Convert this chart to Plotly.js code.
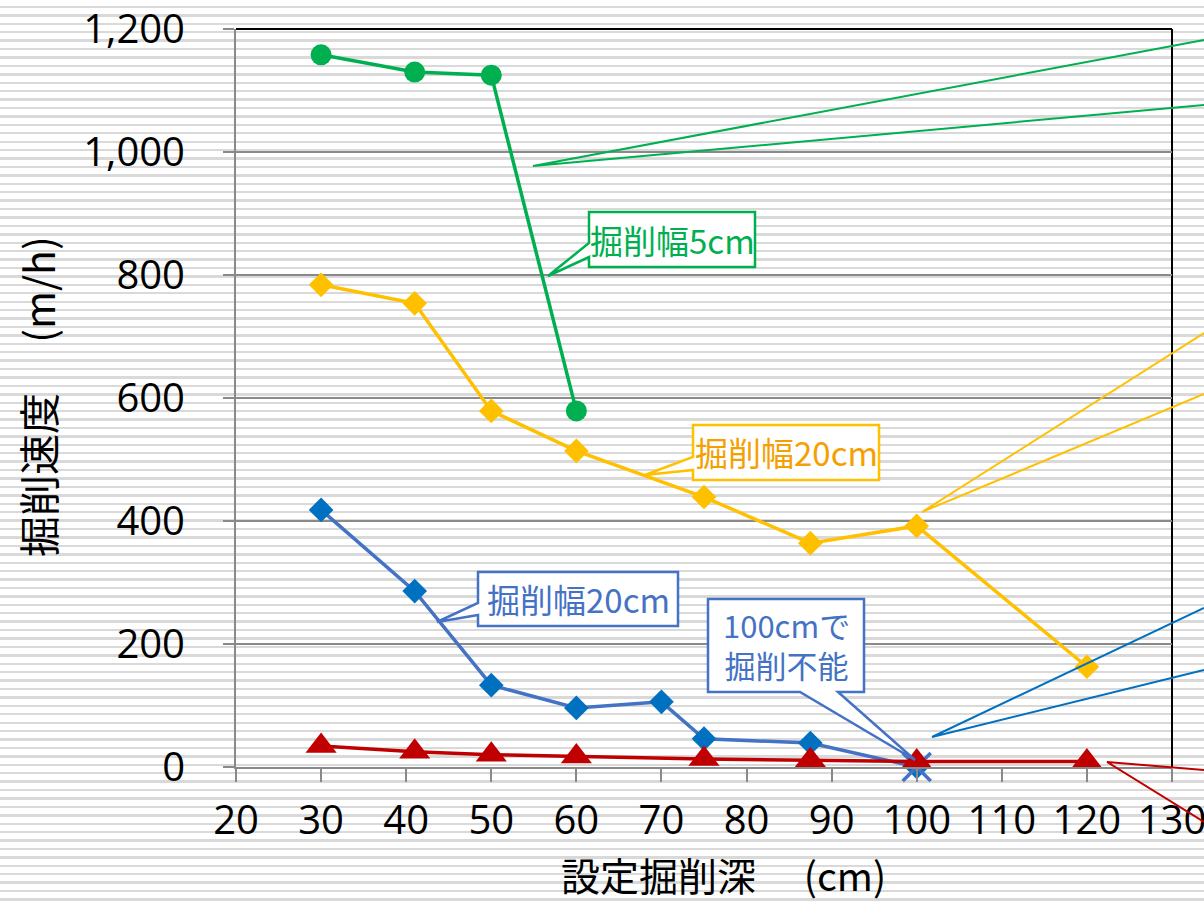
<!DOCTYPE html>
<html>
<head>
<meta charset="utf-8">
<script src="https://cdn.plot.ly/plotly-3.0.1.min.js"></script>
<style>
  html, body { margin: 0; padding: 0; width: 1204px; height: 901px; overflow: hidden;
    background: repeating-linear-gradient(180deg, #ffffff 0px, #ffffff 5.8px, #d9d9d9 5.8px, #d9d9d9 8.2px, #ffffff 8.2px, #ffffff 8.42px); }
  #chart { width: 1204px; height: 901px; }
</style>
</head>
<body>
<div id="chart"></div>
<script>
// ---- data ----
const greenX  = [30, 41, 50, 60];
const greenY  = [1158, 1130, 1125, 579];
const yellowX = [30, 41, 50, 60, 75, 87.5, 100, 120];
const yellowY = [784, 754, 579, 514, 439, 364, 392, 163];
const blueX   = [30, 41, 50, 60, 70, 75, 87.5, 100];
const blueY   = [418, 286, 133, 96, 106, 46, 39, 0];
const failX   = [100];
const failY   = [0];
const redX    = [30, 41, 50, 60, 75, 87.5, 100, 120];
const redY    = [34, 25, 20, 17, 13, 11, 9, 9];

const xTickVals = [20, 30, 40, 50, 60, 70, 80, 90, 100, 110, 120, 130];
const yTickVals = [0, 200, 400, 600, 800, 1000, 1200];
const yTickText = ['0', '200', '400', '600', '800', '1,000', '1,200'];

const xTitle = '設定掘削深　 (cm)';
const yTitle = '掘削速度　 (m/h)';
const labelGreen  = '掘削幅5cm';
const labelYellow = '掘削幅20cm';
const labelBlue   = '掘削幅20cm';
const labelNote   = ['100cmで', '掘削不能'];

// ---- layout helpers (pixel geometry of the frame) ----
const L = 236, R = 1172, T = 29, B = 767;
const px = x => (x - L) / (R - L);
const py = y => (B - y) / (B - T);
const pathOf = (pts, close) => pts.map((p, i) => (i ? 'L' : 'M') + px(p[0]).toFixed(5) + ',' + py(p[1]).toFixed(5)).join(' ') + (close ? ' Z' : '');

const GREEN = '#00B050', YELLOW = '#FFC000', BLUE_M = '#0070C0', BLUE_L = '#4472C4', RED = '#C00000';
const JP = 'Noto Sans CJK JP, Noto Sans, sans-serif';

const traces = [
  { x: blueX, y: blueY, type: 'scatter', mode: 'lines+markers', cliponaxis: false,
    line: { color: BLUE_L, width: 3.5 },
    marker: { color: BLUE_M, symbol: 'diamond', size: 19, line: { width: 0 } } },
  { x: failX, y: failY, type: 'scatter', mode: 'markers', cliponaxis: false,
    marker: { color: BLUE_L, symbol: 'x-thin-open', size: 28, line: { color: BLUE_L, width: 3.5 } } },
  { x: yellowX, y: yellowY, type: 'scatter', mode: 'lines+markers', cliponaxis: false,
    line: { color: YELLOW, width: 3.5 },
    marker: { color: YELLOW, symbol: 'diamond', size: 19 } },
  { x: greenX, y: greenY, type: 'scatter', mode: 'lines+markers', cliponaxis: false,
    line: { color: GREEN, width: 3.5 },
    marker: { color: GREEN, symbol: 'circle', size: 21 } },
  { x: redX, y: redY, type: 'scatter', mode: 'lines+markers', cliponaxis: false,
    line: { color: RED, width: 3.5 },
    marker: { color: RED, symbol: 'triangle-up', size: 27 } }
];

// callout boxes (pixel geometry)
const callouts = [
  { color: GREEN,  pts: [[589,212],[755,212],[755,267],[589,267],[589,257],[548,276],[589,243]] },
  { color: YELLOW, pts: [[693,425],[879,425],[879,480],[693,480],[693,470],[645,475],[693,457]] },
  { color: BLUE_L, pts: [[478,572],[678,572],[678,626],[478,626],[478,615],[437,622],[478,603]] },
  { color: BLUE_L, pts: [[708,599],[864,599],[864,692],[838,692],[915,760],[800,692],[708,692]] }
];
const leaders = [
  { color: GREEN,  pts: [[1204,40],[533,166],[1204,105]] },
  { color: YELLOW, pts: [[1204,333],[922,512],[1204,394]] },
  { color: BLUE_M, pts: [[1204,608],[932,737],[1204,670]] },
  { color: RED,    pts: [[1204,770],[1107,762],[1204,822]] }
];

const shapes = [];
callouts.forEach(c => shapes.push({ type: 'path', xref: 'paper', yref: 'paper', layer: 'above',
  path: pathOf(c.pts, true), fillcolor: '#ffffff', line: { color: c.color, width: 2.5 } }));
leaders.forEach(c => shapes.push({ type: 'path', xref: 'paper', yref: 'paper', layer: 'above',
  path: pathOf(c.pts, false), line: { color: c.color, width: 2 } }));
// black frame on top and right
shapes.push({ type: 'line', xref: 'paper', yref: 'paper', x0: 0, x1: 1, y0: 1, y1: 1, layer: 'below', line: { color: '#000', width: 2 } });
shapes.push({ type: 'line', xref: 'paper', yref: 'paper', x0: 1, x1: 1, y0: 0, y1: 1, layer: 'below', line: { color: '#000', width: 2 } });

const txt = (text, cx, cy, color, size, angle) => ({
  text, xref: 'paper', yref: 'paper', x: px(cx), y: py(cy), xanchor: 'center', yanchor: 'middle',
  showarrow: false, textangle: angle || 0, font: { family: JP, size, color } });

const annotations = [
  txt(labelGreen, 672, 240, GREEN, 33),
  txt(labelYellow, 786, 452, '#F5A000', 33),
  txt(labelBlue, 578, 599, BLUE_L, 33),
  txt(labelNote.join('<br>'), 786, 644, BLUE_L, 31),
  txt(xTitle, 723, 874, '#000', 39),
  txt(yTitle, 37, 397, '#000', 41, -90)
];

const layout = {
  width: 1204, height: 901,
  margin: { l: L, r: 1204 - R, t: T, b: 901 - B, pad: 0 },
  paper_bgcolor: 'rgba(0,0,0,0)', plot_bgcolor: 'rgba(0,0,0,0)',
  showlegend: false,
  xaxis: { range: [20, 130], tickvals: xTickVals, ticks: 'outside', ticklen: 13, tickwidth: 2, tickcolor: '#898989',
           showline: true, linecolor: '#898989', linewidth: 2, showgrid: false, zeroline: false, ticklabeloverflow: 'allow',
           tickfont: { family: 'Open Sans', size: 40, color: '#000' }, ticklabelstandoff: 4 },
  yaxis: { range: [0, 1200], tickvals: yTickVals, ticktext: yTickText, ticks: 'outside', ticklen: 11, tickwidth: 2, tickcolor: '#898989',
           showline: true, linecolor: '#898989', linewidth: 2, showgrid: true, gridcolor: '#8a8a8a', gridwidth: 2, zeroline: false,
           tickfont: { family: 'Open Sans', size: 40, color: '#000' }, ticklabelstandoff: 30 },
  shapes, annotations
};

Plotly.newPlot('chart', traces, layout, { staticPlot: true, displayModeBar: false });
</script>
</body>
</html>
